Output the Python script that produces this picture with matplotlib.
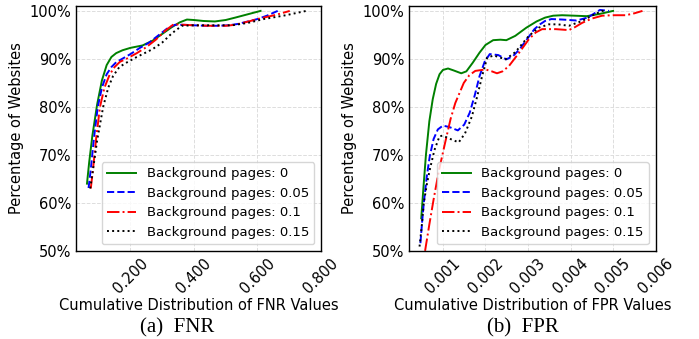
import matplotlib
matplotlib.use("Agg")
import matplotlib.pyplot as plt
from matplotlib.ticker import FuncFormatter

labels = ["Background pages: 0", "Background pages: 0.05",
          "Background pages: 0.1", "Background pages: 0.15"]

# FNR panel
fnr_x0 = [0.063, 0.07, 0.08, 0.095, 0.11, 0.125, 0.14, 0.155, 0.175, 0.2, 0.238, 0.27, 0.3, 0.33,
          0.355, 0.378, 0.4, 0.43, 0.466, 0.5, 0.53, 0.57, 0.61]
fnr_y0 = [64, 68.5, 74, 80.5, 85.5, 88.7, 90.4, 91.2, 91.8, 92.3, 92.8, 93.8, 95.2, 96.6,
          97.6, 98.2, 98.1, 97.9, 97.8, 98.1, 98.6, 99.3, 100]
fnr_x1 = [0.068, 0.075, 0.085, 0.097, 0.11, 0.125, 0.14, 0.155, 0.171, 0.2, 0.23, 0.259, 0.29,
          0.315, 0.34, 0.37, 0.4, 0.44, 0.476, 0.51, 0.54, 0.57, 0.6, 0.63, 0.664]
fnr_y1 = [63.1, 67, 73.5, 80, 84, 86.8, 88.3, 89.3, 89.9, 91.0, 92.3, 93.4, 95.0,
          96.3, 97.1, 97.1, 97.0, 96.9, 96.9, 97.0, 97.3, 97.8, 98.3, 99.0, 100]
fnr_x2 = [0.075, 0.082, 0.092, 0.104, 0.118, 0.135, 0.15, 0.167, 0.187, 0.22, 0.249, 0.28,
          0.31, 0.336, 0.37, 0.4, 0.45, 0.5, 0.53, 0.56, 0.59, 0.62, 0.66, 0.702]
fnr_y2 = [63, 67, 73.5, 80, 84, 86.8, 88.3, 89.4, 90.0, 91.2, 92.4, 94.0,
          95.9, 97.2, 97.1, 97.0, 96.9, 96.9, 97.1, 97.6, 98.1, 98.6, 99.2, 100]
fnr_x3 = [0.073, 0.08, 0.095, 0.114, 0.13, 0.145, 0.165, 0.187, 0.22, 0.269, 0.3, 0.33, 0.362,
          0.4, 0.45, 0.52, 0.57, 0.62, 0.69, 0.754]
fnr_y3 = [63, 66, 73, 80, 84.0, 86.4, 88.3, 89.2, 90.4, 92.0, 93.4, 95.3, 96.9,
          97.0, 97.0, 97.0, 97.5, 98.3, 99.1, 100]

# FPR panel
fpr_x0 = [0.00049, 0.00054, 0.0006, 0.00068, 0.00076, 0.00084, 0.00092, 0.001, 0.00112, 0.00125,
          0.00143, 0.00155, 0.0017, 0.00186, 0.002, 0.00218, 0.00235, 0.00249, 0.0027, 0.00296,
          0.0032, 0.0034, 0.00359, 0.0038, 0.0041, 0.00438, 0.0047, 0.005]
fpr_y0 = [56.8, 63, 70, 77, 81.6, 84.8, 86.8, 87.7, 88.0, 87.6, 87.0, 87.4, 89.2, 91.3, 92.9,
          93.9, 94.0, 93.9, 94.8, 96.5, 97.8, 98.6, 99.0, 99.1, 99.0, 98.9, 99.4, 100]
fpr_x1 = [0.00047, 0.00051, 0.00055, 0.00062, 0.00069, 0.00078, 0.00088, 0.001, 0.00115, 0.00135,
          0.0015, 0.00163, 0.00175, 0.00186, 0.00198, 0.0021, 0.0023, 0.00249, 0.00265, 0.0028,
          0.003, 0.00315, 0.00328, 0.0034, 0.00355, 0.0038, 0.00414, 0.0044, 0.00469, 0.0049]
fpr_y1 = [51.6, 56, 60, 65.5, 69.7, 73.3, 75.3, 76.1, 75.8, 75.1, 76.3, 78.8, 82.5, 86.4, 89.4,
          91.0, 90.8, 89.9, 90.6, 92.0, 94.4, 96.2, 97.2, 97.9, 98.3, 98.2, 98.0, 98.6, 100.2, 100]
fpr_x2 = [0.00058, 0.00068, 0.00078, 0.0009, 0.00105, 0.00118, 0.00129, 0.00149, 0.00162, 0.00176,
          0.002, 0.00215, 0.00227, 0.0024, 0.00255, 0.0028, 0.00302, 0.00318, 0.00333, 0.00365,
          0.00396, 0.0041, 0.00427, 0.0045, 0.00474, 0.005, 0.0053, 0.0055, 0.00569]
fpr_y2 = [50, 55.5, 60.7, 66.5, 72.5, 77.5, 80.8, 85, 86.6, 87.5, 87.8, 87.4, 87.0, 87.4, 88.5,
          91.4, 94.1, 95.5, 96.2, 96.2, 96.0, 96.6, 97.5, 98.4, 99.0, 99.1, 99.1, 99.5, 100]
fpr_x3 = [0.00045, 0.0005, 0.00055, 0.00062, 0.00069, 0.0008, 0.00092, 0.001, 0.00115, 0.00137,
          0.00152, 0.00168, 0.0018, 0.00192, 0.00204, 0.0022, 0.00247, 0.0027, 0.00302, 0.00325,
          0.00349, 0.0037, 0.00396, 0.00427, 0.0045, 0.00474, 0.00485]
fpr_y3 = [50.9, 55, 60, 63.8, 66.9, 71.0, 73.9, 74.0, 73.4, 72.6, 74.5, 78.0, 82.0, 86.4, 90.3,
          90.7, 89.9, 91.4, 94.8, 96.5, 97.2, 97.2, 96.9, 97.9, 99.0, 100, 100]

styles = [dict(color="green", linestyle="-"),
          dict(color="blue", linestyle="--"),
          dict(color="red", linestyle="-."),
          dict(color="black", linestyle=":")]

fig = plt.figure(figsize=(6.99, 3.39), dpi=100)
ax1 = fig.add_axes([0.109, 0.26, 0.350, 0.722])
ax2 = fig.add_axes([0.585, 0.26, 0.353, 0.722])


def draw(ax, xs, ys, xlabel, xticks, xlim):
    for x, y, lab, st in zip(xs, ys, labels, styles):
        ax.plot(x, y, label=lab, linewidth=1.4, **st)
    ax.set_ylim(50, 101)
    ax.set_xlim(*xlim)
    ax.set_yticks([50, 60, 70, 80, 90, 100])
    ax.yaxis.set_major_formatter(FuncFormatter(lambda v, p: "%d%%" % v))
    ax.set_xticks(xticks)
    ax.xaxis.set_major_formatter(FuncFormatter(lambda v, p: "%.3f" % v))
    plt.setp(ax.get_xticklabels(), rotation=45, ha="center")
    ax.tick_params(labelsize=10.5, length=0, pad=3.5)
    for s in ax.spines.values():
        s.set_color("black")
        s.set_linewidth(1.0)
    ax.grid(True, linestyle="--", color="#dddddd", linewidth=0.7)
    ax.set_xlabel(xlabel, fontsize=10.5, labelpad=1)
    ax.set_ylabel("Percentage of Websites", fontsize=10.5, labelpad=4)
    ax.legend(loc="lower right", fontsize=9.5, handlelength=2.2, borderaxespad=0.5)


draw(ax1, [fnr_x0, fnr_x1, fnr_x2, fnr_x3], [fnr_y0, fnr_y1, fnr_y2, fnr_y3],
     "Cumulative Distribution of FNR Values", [0.2, 0.4, 0.6, 0.8], (0.029, 0.8))
draw(ax2, [fpr_x0, fpr_x1, fpr_x2, fpr_x3], [fpr_y0, fpr_y1, fpr_y2, fpr_y3],
     "Cumulative Distribution of FPR Values", [0.001, 0.002, 0.003, 0.004, 0.005, 0.006], (0.0002, 0.006))

fig.text(0.253, 0.018, "(a)  FNR", family="Liberation Serif", fontsize=15, ha="center", va="baseline")
fig.text(0.748, 0.018, "(b)  FPR", family="Liberation Serif", fontsize=15, ha="center", va="baseline")

fig.savefig("out.png", dpi=100)
